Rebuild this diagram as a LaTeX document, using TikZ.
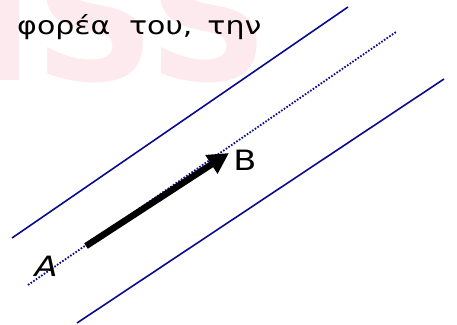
\documentclass[tikz,border=0pt]{standalone}
\usepackage{fontspec}
\setmainfont{DejaVu Sans}
\newfontfamily\comic[FakeStretch=1.2]{DejaVu Sans}
\usetikzlibrary{arrows.meta}
\definecolor{navy}{RGB}{10,10,140}
\definecolor{wm}{RGB}{253,234,238}
\tikzset{
  guide/.style={navy, line width=1.6pt},
  axis/.style={navy, line width=1.8pt, dash pattern=on 1.6pt off 1.6pt},
  vec/.style={line width=6.5pt, -{Triangle[length=21pt,width=21pt]}},
  lbl/.style={font=\comic\fontsize{25}{30}\selectfont, inner sep=0pt}
}
\begin{document}
\begin{tikzpicture}[x=1pt,y=-1pt]
\useasboundingbox (0,0) rectangle (457,324);
\begin{scope}
\clip (0,0) rectangle (457,324);
\node[wm, font=\fontsize{168}{168}\bfseries, anchor=base west, inner sep=0pt] (water) at (-28,80) {ISS};
\end{scope}
\node[lbl, anchor=base west] (text) at (17,34) {φορέα\hspace{0.75em}του,\hspace{0.6em}την};
\coordinate (u1) at (12,238); \coordinate (u2) at (348,7);
\coordinate (d1) at (28,285); \coordinate (d2) at (396,32);
\coordinate (l1) at (77,323); \coordinate (l2) at (444,79);
\draw[guide] (u1) -- (u2);
\draw[axis] (d1) -- (d2);
\draw[guide] (l1) -- (l2);
\coordinate (pa) at (86,246);
\coordinate (pb) at (229,153);
\draw[vec] (pa) -- (pb);
\node[lbl, font=\comic\fontsize{28}{32}\selectfont\itshape] (A) at (46,266) {A};
\node[lbl, font=\comic\fontsize{28}{32}\selectfont] (B) at (245,160) {B};
\end{tikzpicture}
\end{document}
